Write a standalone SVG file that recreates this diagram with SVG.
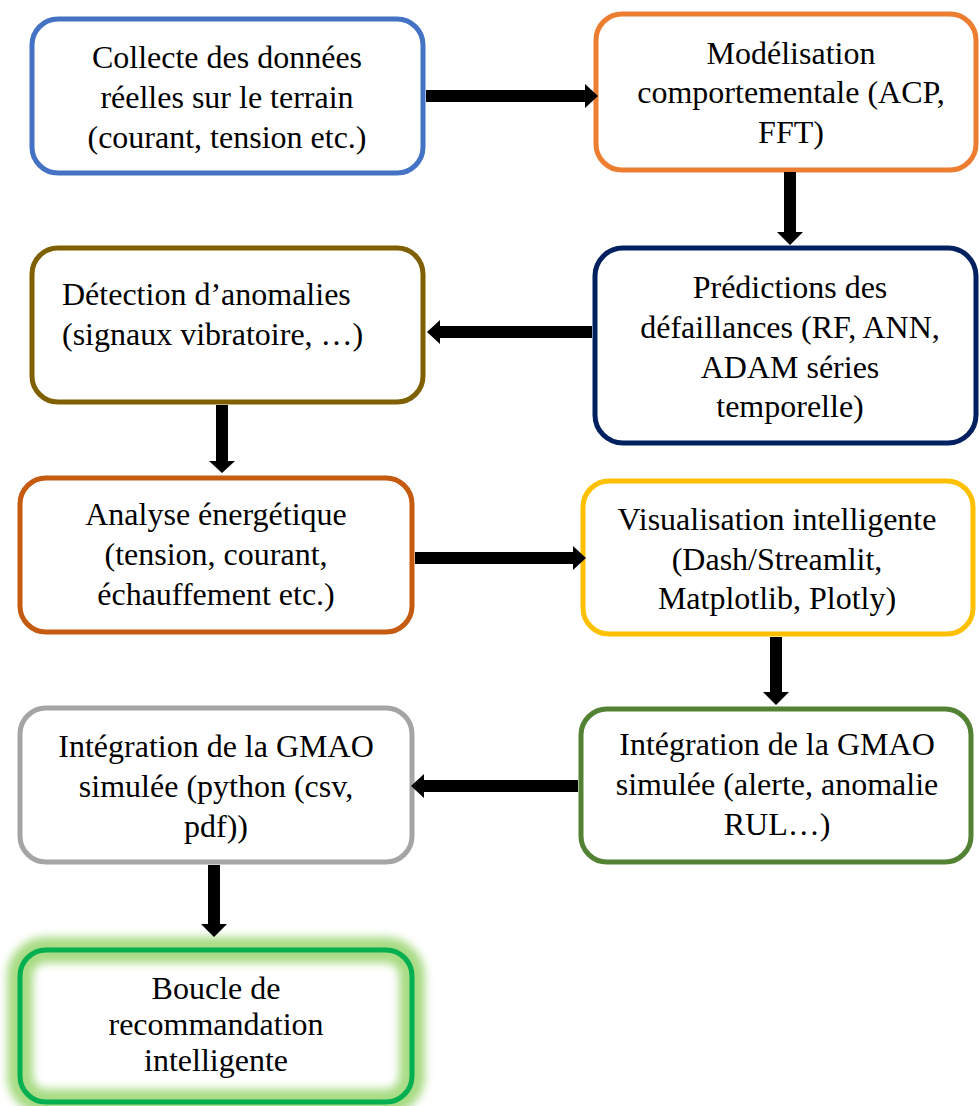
<svg xmlns="http://www.w3.org/2000/svg" width="979" height="1106" viewBox="0 0 979 1106">
<defs>
<style>
.box{fill:#fff;stroke-width:5}
.t{font-family:"Liberation Serif","Times New Roman",serif;font-size:32px;fill:#000;text-anchor:middle}
.tl{text-anchor:start}
.arr{fill:#000}
</style>
<filter id="glow" x="-20%" y="-30%" width="140%" height="160%">
<feGaussianBlur stdDeviation="4.5"/>
</filter>
</defs>
<rect width="979" height="1106" fill="#fff"/>

<g id="n1">
<rect class="box" x="32" y="19" width="391" height="154" rx="26" stroke="#4472C4"/>
<text class="t" x="227" y="68">Collecte des données</text>
<text class="t" x="227" y="108">réelles sur le terrain</text>
<text class="t" x="227" y="148">(courant, tension etc.)</text>
</g>

<g id="n2">
<rect class="box" x="596" y="14" width="380" height="156" rx="26" stroke="#ED7D31"/>
<text class="t" x="791" y="64">Modélisation</text>
<text class="t" x="791" y="103">comportementale (ACP,</text>
<text class="t" x="791" y="143">FFT)</text>
</g>

<g id="n3">
<rect class="box" x="32" y="248" width="391" height="154" rx="26" stroke="#7F6000"/>
<text class="t tl" x="62" y="305">Détection d’anomalies</text>
<text class="t tl" x="62" y="345">(signaux vibratoire, …)</text>
</g>

<g id="n4">
<rect class="box" x="595" y="248" width="381" height="195" rx="28" stroke="#002060"/>
<text class="t" x="790" y="298">Prédictions des</text>
<text class="t" x="790" y="338">défaillances (RF, ANN,</text>
<text class="t" x="790" y="378">ADAM séries</text>
<text class="t" x="790" y="417">temporelle)</text>
</g>

<g id="n5">
<rect class="box" x="20" y="478" width="392" height="154" rx="26" stroke="#C55A11"/>
<text class="t" x="216" y="525">Analyse énergétique</text>
<text class="t" x="216" y="565">(tension, courant,</text>
<text class="t" x="216" y="605">échauffement etc.)</text>
</g>

<g id="n6">
<rect class="box" x="583" y="481" width="390" height="153" rx="26" stroke="#FFC000"/>
<text class="t" x="777" y="530">Visualisation intelligente</text>
<text class="t" x="777" y="570">(Dash/Streamlit,</text>
<text class="t" x="777" y="609">Matplotlib, Plotly)</text>
</g>

<g id="n7">
<rect class="box" x="581" y="709" width="390" height="153" rx="26" stroke="#548235"/>
<text class="t" x="777" y="755">Intégration de la GMAO</text>
<text class="t" x="777" y="795">simulée (alerte, anomalie</text>
<text class="t" x="777" y="835">RUL…)</text>
</g>

<g id="n8">
<rect class="box" x="20" y="708" width="392" height="154" rx="26" stroke="#A5A5A5"/>
<text class="t" x="216" y="757">Intégration de la GMAO</text>
<text class="t" x="216" y="797">simulée (python (csv,</text>
<text class="t" x="216" y="837">pdf))</text>
</g>

<g id="n9">
<rect x="20" y="950" width="392" height="152" rx="26" fill="#fff"/>
<rect x="20" y="950" width="392" height="152" rx="26" fill="none" stroke="#A8DB84" stroke-width="26" filter="url(#glow)"/>
<rect x="20" y="950" width="392" height="152" rx="26" fill="none" stroke="#00B050" stroke-width="5"/>
<text class="t" x="216" y="999">Boucle de</text>
<text class="t" x="216" y="1035">recommandation</text>
<text class="t" x="216" y="1071">intelligente</text>
</g>

<g id="connectors">
<path class="arr" d="M426,90 H585 V84 L598,96 L585,108 V102 H426 Z"/>
<path class="arr" d="M784,172 V232 H777 L790,245 L803,232 H796 V172 Z"/>
<path class="arr" d="M592,326 H440 V320 L427,332 L440,344 V338 H592 Z"/>
<path class="arr" d="M216,405 V461 H209 L222,473 L235,461 H228 V405 Z"/>
<path class="arr" d="M415,552 H573 V546 L586,558 L573,570 V564 H415 Z"/>
<path class="arr" d="M770,637 V692 H763 L776,705 L789,692 H782 V637 Z"/>
<path class="arr" d="M578,780 H424 V774 L411,786 L424,798 V792 H578 Z"/>
<path class="arr" d="M208,865 V924 H201 L214,937 L227,924 H220 V865 Z"/>
</g>
</svg>
